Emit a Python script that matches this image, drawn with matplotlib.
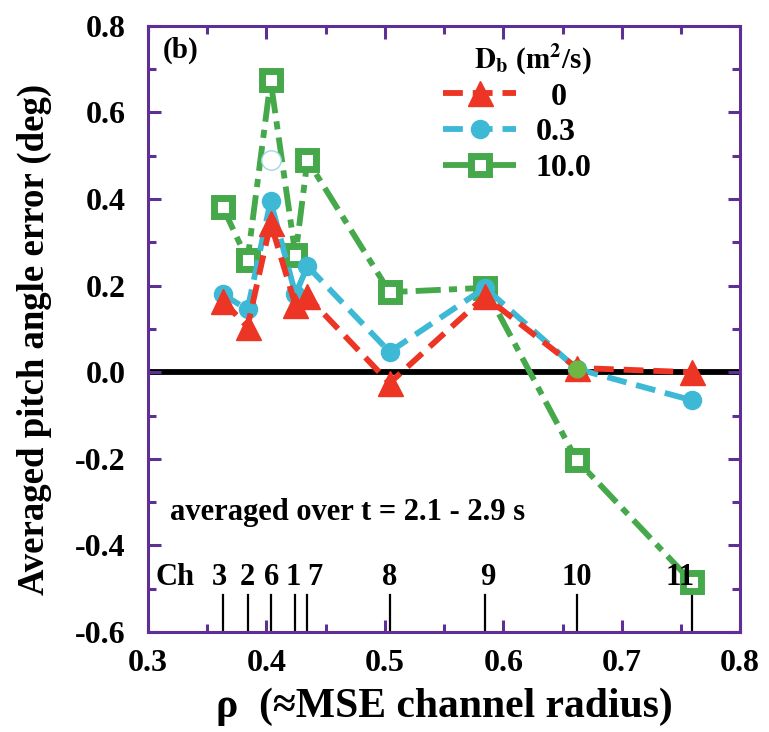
import numpy as np
import matplotlib.pyplot as plt
from matplotlib.ticker import MultipleLocator

plt.rcParams['font.family'] = ['Liberation Serif', 'DejaVu Serif']
plt.rcParams['font.weight'] = 'bold'
plt.rcParams['mathtext.fontset'] = 'stix'

# MSE channel positions (normalised radius)
channels = ['3', '2', '6', '1', '7', '8', '9', '10', '11']
rho = [0.363, 0.384, 0.4035, 0.4245, 0.4346, 0.504, 0.5845, 0.662, 0.7595]

# averaged pitch angle error (deg) for each D_b
err_0 = [0.165, 0.105, 0.345, 0.155, 0.175, -0.025, 0.175, 0.01, 0.0]
err_03 = [0.18, 0.145, 0.395, 0.18, 0.245, 0.047, 0.195, 0.008, -0.065]
err_10 = [0.382, 0.259, 0.674, 0.27, 0.49, 0.185, 0.195, -0.203, -0.485]

red = '#ec3524'
cyan = '#3db9d5'
green = '#45a84a'
purple = '#5e3095'

fig = plt.figure(figsize=(7.69, 7.32), dpi=100)
ax = fig.add_axes([0.1925, 0.1366, 0.77, 0.828])

ax.axhline(0, color='black', lw=4.2, zorder=1)

ax.plot(rho, err_0, color=red, lw=4.2, ls=(0, (3.4, 1.7)), marker='^',
        ms=18, mec=red, mfc=red, label='  0', zorder=4)
ax.plot(rho, err_03, color=cyan, lw=4.2, ls=(0, (3.4, 1.7)), marker='o',
        ms=13, mec=cyan, mfc=cyan, label='0.3', zorder=3)
ax.plot(rho, err_10, color=green, lw=4.2, ls=(0, (4.3, 1.4, 1.4, 1.4)), marker='s',
        ms=13, mec=green, mfc='white', mew=5, label='10.0', zorder=2)

# stray markers left over on the plot
ax.plot([0.4035], [0.49], ls='none', marker='o', ms=14, mfc='white', mec='#9fd8e6', mew=1, zorder=2)
ax.plot([0.662], [0.008], ls='none', marker='o', ms=12, mfc='#6cb843', mec='#6cb843', zorder=5)

# channel markers along the bottom
for r in rho:
    ax.plot([r, r], [-0.515, -0.6], color='black', lw=1.6, zorder=1, clip_on=False)
label_x = [0.3605, 0.3835, 0.4045, 0.4225, 0.4405, 0.504, 0.5865, 0.662, 0.749]
for ch, lx in zip(channels, label_x):
    ax.text(lx, -0.492, ch, ha='center', va='baseline', fontsize=22, fontweight='bold')
ax.text(0.3225, -0.492, 'Ch', ha='center', va='baseline', fontsize=22, fontweight='bold')

ax.text(0.3185, -0.342, 'averaged over t = 2.1 - 2.9 s', ha='left', va='baseline',
        fontsize=22, fontweight='bold')
ax.text(0.3125, 0.727, '(b)', ha='left', va='baseline', fontsize=21, fontweight='bold')

leg = ax.legend(loc='upper left', bbox_to_anchor=(0.46, 1.012), frameon=False,
                title=r'$\mathbf{D_b}$ (m$^{\mathbf{2}}$/s)', fontsize=23,
                title_fontsize=21, handlelength=2.3, handletextpad=0.6,
                labelspacing=0.2, borderpad=0.2)
leg.get_title().set_fontweight('bold')
leg._legend_box.align = 'right'

ax.set_xlim(0.3, 0.8)
ax.set_ylim(-0.6, 0.8)
ax.xaxis.set_minor_locator(MultipleLocator(0.05))
ax.yaxis.set_minor_locator(MultipleLocator(0.1))
ax.set_xticks(np.arange(0.3, 0.81, 0.1))
ax.set_xticklabels(['0.3', '0.4', '0.5', '0.6', '0.7', '0.8'])
ax.set_yticks(np.arange(-0.6, 0.81, 0.2))
ax.set_yticklabels(['-0.6', '-0.4', '-0.2', '0.0', '0.2', '0.4', '0.6', '0.8'])

ax.tick_params(which='both', direction='in', top=True, right=True, color=purple,
               width=2.2, labelsize=23)
ax.tick_params(axis='x', which='both', pad=12)
ax.tick_params(axis='y', which='both', pad=16)
ax.tick_params(which='major', length=9)
ax.tick_params(which='minor', length=6)
for lbl in ax.get_xticklabels() + ax.get_yticklabels():
    lbl.set_fontweight('bold')
for sp in ax.spines.values():
    sp.set_color(purple)
    sp.set_linewidth(2.2)

ax.set_ylabel('Averaged pitch angle error (deg)', fontsize=26.5, fontweight='bold')
ax.set_xlabel('ρ  (≈MSE channel radius)', fontsize=30, fontweight='bold')
ax.yaxis.set_label_coords(-0.163, 0.483)
ax.xaxis.set_label_coords(0.5, -0.092)

fig.savefig('out.png', dpi=100)
